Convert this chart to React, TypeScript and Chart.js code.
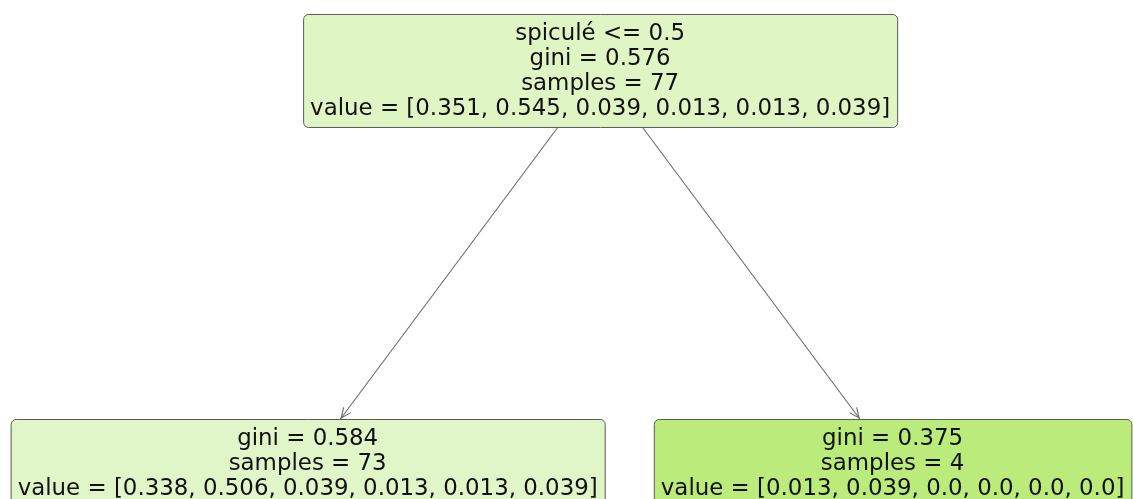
import React, { useEffect, useRef } from "react";
import { Chart, registerables } from "chart.js";

Chart.register(...registerables);

// ---- Tree data ----
const nodeConditions: string[] = ["spiculé <= 0.5", "", ""];
const nodeGini: number[] = [0.576, 0.584, 0.375];
const nodeSamples: number[] = [77, 73, 4];
const nodeValues: number[][] = [
  [0.351, 0.545, 0.039, 0.013, 0.013, 0.039],
  [0.338, 0.506, 0.039, 0.013, 0.013, 0.039],
  [0.013, 0.039, 0.0, 0.0, 0.0, 0.0],
];
const nodeParent: number[] = [-1, 0, 0];
const nClasses = 6;

// view extents of the tree coordinate system (tree units / depth levels)
const X_MIN = -1.052;
const X_MAX = 2.822;
const Y_MIN = -0.1796;
const Y_MAX = 1.0917;

const FONT_SIZE = 22.9;
const LINE_H = 25;
const PAD_X = 7;
const PAD_Y = 6.5;

function fmt(v: number): string {
  return Number.isInteger(v) ? v.toFixed(1) : String(v);
}

function nodeLines(i: number): string[] {
  const lines: string[] = [];
  if (nodeConditions[i]) lines.push(nodeConditions[i]);
  lines.push(`gini = ${nodeGini[i]}`);
  lines.push(`samples = ${nodeSamples[i]}`);
  lines.push(`value = [${nodeValues[i].map(fmt).join(", ")}]`);
  return lines;
}

// sklearn-like colour brew
function colorBrew(n: number): number[][] {
  const out: number[][] = [];
  const s = 0.75, v = 0.9, c = s * v, m = v - c;
  for (let k = 0; k < n; k++) {
    const h = 25 + (k * 360) / n;
    const hb = h / 60;
    const x = c * (1 - Math.abs((hb % 2) - 1));
    const sector = Math.floor(hb) % 6;
    const rgbs = [
      [c, x, 0], [x, c, 0], [0, c, x], [0, x, c], [x, 0, c], [c, 0, x],
    ][sector];
    out.push(rgbs.map((q) => Math.round((q + m) * 255)));
  }
  return out;
}

function nodeColor(i: number): string {
  const vals = nodeValues[i];
  const sum = vals.reduce((a, b) => a + b, 0);
  const norm = vals.map((q) => q / sum);
  const sorted = [...norm].sort((a, b) => a - b);
  const top = norm.indexOf(sorted[sorted.length - 1]);
  const alpha = (sorted[sorted.length - 1] - sorted[sorted.length - 2]) / (1 - sorted[sorted.length - 2]);
  const base = colorBrew(nClasses)[top];
  const rgb = base.map((q) => Math.round(alpha * q + (1 - alpha) * 255));
  return `rgb(${rgb[0] - 3},${rgb[1] - 2},${rgb[2]})`;
}

// layout from structure: depth and in-order x positions
function layout() {
  const n = nodeParent.length;
  const children: number[][] = Array.from({ length: n }, () => []);
  nodeParent.forEach((p, i) => { if (p >= 0) children[p].push(i); });
  const depth: number[] = new Array(n).fill(0);
  const xs: number[] = new Array(n).fill(0);
  let leaf = 0;
  const visit = (i: number, d: number) => {
    depth[i] = d;
    if (children[i].length === 0) {
      xs[i] = leaf * 2;
      leaf++;
    } else {
      children[i].forEach((c) => visit(c, d + 1));
      xs[i] = children[i].reduce((a, c) => a + xs[c], 0) / children[i].length;
    }
  };
  visit(0, 0);
  return { depth, xs };
}

const FONT = `${FONT_SIZE}px "DejaVu Sans", sans-serif`;

const treePlugin = {
  id: "treeBoxes",
  afterDatasetsDraw(chart: any) {
    const ctx: CanvasRenderingContext2D = chart.ctx;
    const xs = chart.scales.x;
    const ys = chart.scales.y;
    const { depth, xs: tx } = layout();
    ctx.save();
    ctx.font = FONT;
    const boxes = nodeParent.map((_, i) => {
      const lines = nodeLines(i);
      const w = Math.max(...lines.map((l) => ctx.measureText(l).width)) + 2 * PAD_X;
      const h = lines.length * LINE_H + 2 * PAD_Y;
      const cx = xs.getPixelForValue(tx[i]);
      const cy = ys.getPixelForValue(depth[i]);
      return { lines, w, h, cx, cy };
    });
    // arrowheads
    ctx.strokeStyle = "#6a6a6a";
    ctx.lineWidth = 1.1;
    nodeParent.forEach((p, i) => {
      if (p < 0) return;
      const a = boxes[p], b = boxes[i];
      const topY = b.cy - b.h / 2 - 1;
      const t = (topY - a.cy) / (b.cy - a.cy);
      const tipX = a.cx + (b.cx - a.cx) * t;
      const ang = Math.atan2(b.cy - a.cy, b.cx - a.cx);
      const L = 11, spread = 0.42;
      ctx.beginPath();
      ctx.moveTo(tipX - L * Math.cos(ang - spread), topY - L * Math.sin(ang - spread));
      ctx.lineTo(tipX, topY);
      ctx.lineTo(tipX - L * Math.cos(ang + spread), topY - L * Math.sin(ang + spread));
      ctx.stroke();
    });
    // boxes
    boxes.forEach((b, i) => {
      const x = b.cx - b.w / 2, y = b.cy - b.h / 2;
      ctx.beginPath();
      ctx.roundRect(x + 0.5, y + 0.5, b.w, b.h, 5);
      ctx.fillStyle = nodeColor(i);
      ctx.fill();
      ctx.strokeStyle = "#5a5a5a";
      ctx.lineWidth = 1;
      ctx.stroke();
      ctx.fillStyle = "#111111";
      ctx.textAlign = "center";
      ctx.textBaseline = "middle";
      b.lines.forEach((l, k) => {
        ctx.fillText(l, b.cx, y + PAD_Y + LINE_H * (k + 0.5) + 1);
      });
    });
    ctx.restore();
  },
};

export default function App() {
  const ref = useRef<HTMLCanvasElement | null>(null);
  useEffect(() => {
    document.body.style.margin = "0";
    const { depth, xs } = layout();
    const edges = nodeParent
      .map((p, i) => (p < 0 ? null : {
        data: [{ x: xs[p], y: depth[p] }, { x: xs[i], y: depth[i] }],
        showLine: true,
        borderColor: "#6a6a6a",
        borderWidth: 1.1,
        pointRadius: 0,
      }))
      .filter(Boolean) as any[];
    const chart = new Chart(ref.current!, {
      type: "scatter",
      data: { datasets: edges },
      options: {
        animation: false,
        responsive: true,
        maintainAspectRatio: false,
        layout: { padding: 0 },
        scales: {
          x: { type: "linear", display: false, min: X_MIN, max: X_MAX },
          y: { type: "linear", display: false, min: Y_MIN, max: Y_MAX, reverse: true },
        },
        plugins: { legend: { display: false }, tooltip: { enabled: false } },
      },
      plugins: [treePlugin],
    });
    return () => chart.destroy();
  }, []);
  return (
    <div style={{ position: "fixed", left: 0, top: 0, width: 1133, height: 499, background: "#fff" }}>
      <canvas ref={ref} />
    </div>
  );
}
